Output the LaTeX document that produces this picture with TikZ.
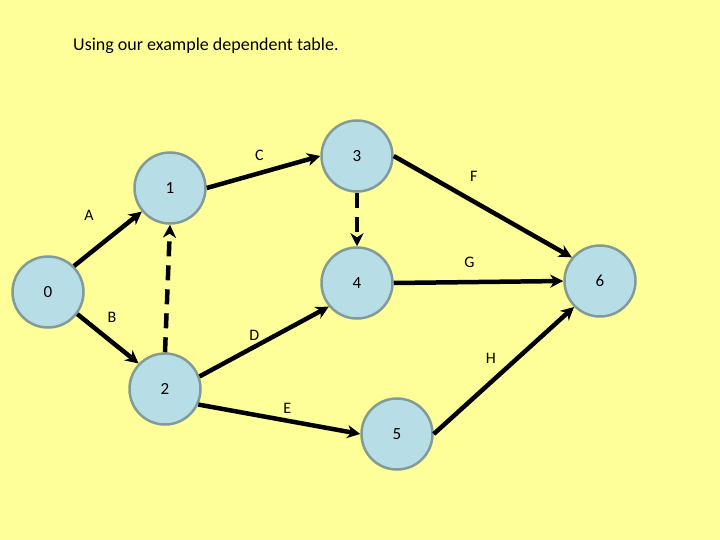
\documentclass[tikz,border=0pt]{standalone}
\usepackage{fontspec}
\setmainfont{Carlito}
\usepackage{xcolor}
\usetikzlibrary{arrows.meta,positioning}

\definecolor{pagebg}{RGB}{255,255,153}
\definecolor{eventfill}{RGB}{183,221,230}
\definecolor{eventline}{RGB}{130,155,150}

\begin{document}
\begin{tikzpicture}[
  x=1pt, y=-1pt,
  >={Stealth[length=13pt,width=13pt,inset=4pt]},
  event/.style={
    draw=eventline,
    fill=eventfill,
    circle,
    line width=2.5pt,
    minimum size=71pt,
    inner sep=0pt,
    font=\fontsize{17}{20}\selectfont
  },
  task/.style={->, line width=4.5pt, black},
  dummy/.style={->, line width=4.5pt, black, dash pattern=on 15pt off 9pt},
  lbl/.style={font=\fontsize{16}{19}\selectfont, inner sep=0pt, pos=0.5}
]
\fill[pagebg] (0,0) rectangle (720,540);
\useasboundingbox (0,0) rectangle (720,540);

\node[anchor=west, inner sep=0pt, font=\fontsize{18}{21}\selectfont] (title) at (73,46) {Using our example dependent table.};

\node[event] (e0) at (48,292) {0};
\node[event] (e1) at (170,188) {1};
\node[event] (e2) at (165,389) {2};
\node[event] (e3) at (357,156) {3};
\node[event] (e4) at (357,283) {4};
\node[event] (e5) at (397,434) {5};
\node[event] (e6) at (600,281) {6};

\draw[task] (e0.45) -- node[lbl, xshift=-19pt, yshift=23pt] {A} (e1.220);
\draw[task] (e0.-37) -- node[lbl, xshift=4pt, yshift=21pt] {B} (e2.136);
\draw[task] (e1.east) -- node[lbl, xshift=-4pt, yshift=17pt] {C} (e3.west);
\draw[task] (e2.20) -- node[lbl, xshift=-10pt, yshift=6pt] {D} (e4.220);
\draw[task] (e2.-25) -- node[lbl, xshift=8pt, yshift=11pt] {E} (e5.west);
\draw[task] (e3.east) -- node[lbl, xshift=-9pt, yshift=30pt] {F} (e6.140);
\draw[task] (e4.east) -- node[lbl, xshift=-9pt, yshift=20pt] {G} (e6.west);
\draw[task] (e5.east) -- node[lbl, xshift=-13pt, yshift=12pt] {H} (e6.225);
\draw[dummy] (e2.north) -- (e1.south);
\draw[dummy] (e3.south) -- (e4.north);
\end{tikzpicture}
\end{document}
